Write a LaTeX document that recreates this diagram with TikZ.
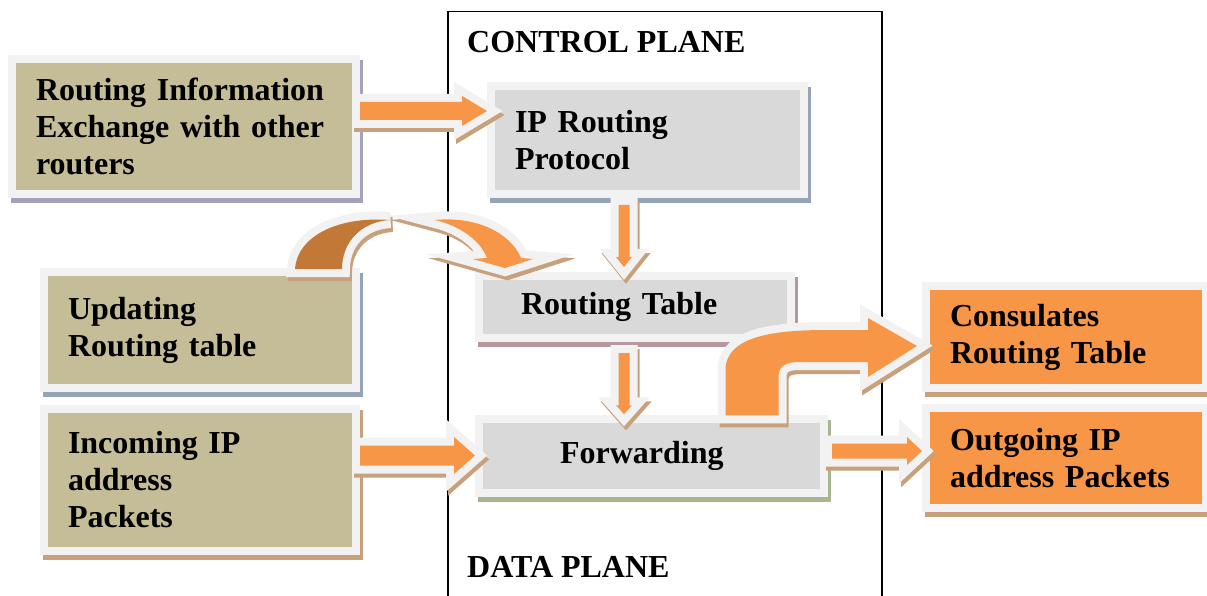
\documentclass[tikz,border=0pt]{standalone}
\usepackage{fontspec}
\setmainfont{Liberation Serif}
\usetikzlibrary{calc,shadows}

\definecolor{halo}{HTML}{F2F2F2}
\definecolor{khaki}{HTML}{C4BD97}
\definecolor{lgray}{HTML}{D9D9D9}
\definecolor{orng}{HTML}{F79646}
\definecolor{dorng}{HTML}{C27836}
\definecolor{tanshade}{HTML}{C9A07C}
\definecolor{blueshade}{HTML}{94A3B8}
\definecolor{violetshade}{HTML}{A5A1BA}
\definecolor{roseshade}{HTML}{B5979E}
\definecolor{greenshade}{HTML}{A7B591}

\tikzset{
  box/.style={draw=halo, line width=8pt, outer sep=4pt, inner ysep=0pt, align=left,
    font=\fontsize{32}{37}\selectfont\bfseries,
    drop shadow={shadow xshift=3pt, shadow yshift=-5pt, fill=#1, draw=#1, opacity=1}},
  lbl/.style={inner sep=0pt, font=\fontsize{32}{37}\selectfont\bfseries},
  blockarrow/.style={fill=#1, line join=miter, miter limit=4,
    preaction={draw=tanshade, fill=tanshade, line width=16pt, transform canvas={shift={(2pt,-4pt)}}},
    preaction={draw=halo, line width=16pt}},
  blockarrow/.default=orng
}

% from, to, shaft half width, head half width, head length
\newcommand{\blockarr}[5]{%
  \coordinate (ba-h) at ($(#2)!#5!(#1)$);
  \path[blockarrow] ($(#1)!#3!90:(#2)$) -- ($(ba-h)!#3!90:(#2)$) -- ($(ba-h)!#4!90:(#2)$)
    -- (#2) -- ($(ba-h)!#4!-90:(#2)$) -- ($(ba-h)!#3!-90:(#2)$) -- ($(#1)!#3!-90:(#2)$) -- cycle;
}

\begin{document}
\begin{tikzpicture}[x=1pt,y=-1pt]
\useasboundingbox (0,0) rectangle (1207,596);

\node[draw, line width=1.5pt, minimum width=434pt, minimum height=620pt, anchor=north west] (plane) at (447,11) {};
\node[lbl, anchor=west] (ctrl) at (467,42) {CONTROL PLANE};
\node[lbl, anchor=west] (data) at (467,567) {DATA PLANE};

\node[box=violetshade, fill=khaki, minimum height=135pt, text width=296pt, inner xsep=24pt] (info) at (184,126.5) {Routing Information\\Exchange with other\\routers};
\node[box=blueshade, fill=lgray, minimum height=108pt, text width=265pt, inner xsep=24pt] (proto) at (647.5,140) {IP Routing\\Protocol};
\node[box=roseshade, fill=lgray, minimum height=62pt, text width=228pt, inner xsep=42pt] (table) at (635,307) {Routing Table};
\node[box=greenshade, fill=lgray, minimum height=73.5pt, text width=183pt, inner xsep=81pt] (fwd) at (651.5,456) {Forwarding};
\node[box=blueshade, fill=khaki, minimum height=116pt, text width=264pt, inner xsep=24pt] (upd) at (200,330) {Updating\\Routing table};
\node[box=tanshade, fill=khaki, minimum height=142pt, text width=264pt, inner xsep=24pt] (inc) at (200,480) {Incoming IP\\address\\Packets};
\node[box=tanshade, fill=orng, minimum height=102pt, text width=232pt, inner xsep=24pt] (cons) at (1066,337) {Consulates\\Routing Table};
\node[box=tanshade, fill=orng, minimum height=100pt, text width=232pt, inner xsep=24pt] (out) at (1066,458) {Outgoing IP\\address Packets};

% straight arrows
\coordinate (a1) at ([yshift=15.5pt]info.east);
\coordinate (a2) at (a1 -| proto.west);
\blockarr{a1}{a2}{9pt}{15pt}{25pt}
\coordinate (b1) at ([xshift=-23.5pt,yshift=-7pt]proto.south);
\coordinate (b2) at ($(b1 |- table.north)+(0,-5)$);
\blockarr{b1}{b2}{5.5pt}{8pt}{10pt}
\coordinate (c1) at ([xshift=-11pt,yshift=-11pt]table.south);
\coordinate (c2) at ($(c1 |- fwd.north)+(0,-1)$);
\blockarr{c1}{c2}{5.5pt}{8pt}{9pt}
\coordinate (d1) at ([yshift=24.5pt]inc.east);
\coordinate (d2) at (d1 -| fwd.west);
\blockarr{d1}{d2}{10pt}{18.5pt}{21pt}
\coordinate (e1) at ([xshift=4pt,yshift=5pt]fwd.east);
\coordinate (e2) at (e1 -| out.west);
\blockarr{e1}{e2}{7.5pt}{14pt}{15pt}

% bent arrow up to the consulting box
\coordinate (fb) at ([xshift=100pt]fwd.north);
\coordinate (fc) at ([xshift=-5pt,yshift=-9pt]cons.west);
\path[blockarrow] ($(fb)+(-26,0)$) -- ($(fb)+(-26,-45)$)
  .. controls ($(fb)+(-26,-80)$) and ($(fc)+(-140,-16)$) .. ($(fc)+(-90,-16)$)
  -- ($(fc)+(-49,-16)$) -- ($(fc)+(-49,-28)$) -- (fc) -- ($(fc)+(-49,31)$) -- ($(fc)+(-49,16)$)
  -- ($(fc)+(-117,16)$) .. controls ($(fc)+(-131,16)$) and ($(fb)+(27,-50)$) .. ($(fb)+(27,-38)$)
  -- ($(fb)+(27,0)$) -- cycle;

% curved arrow over the frame into the table
\begin{scope}[shift={(upd.north east)}]
\path[blockarrow=dorng, line join=round] (-65,1) .. controls (-63,-30) and (-25,-52) .. (30,-48)
  .. controls (0,-46) and (-18,-25) .. (-18,1) -- cycle;
\end{scope}
\begin{scope}[shift={(table.north west)}]
\path[blockarrow, line join=round] (-40,-52) .. controls (0,-56) and (35,-40) .. (46,-14)
  -- (58,-13) -- (30,-4) -- (-2,-13) -- (12,-14) .. controls (5,-32) and (-15,-46) .. (-40,-52) -- cycle;
\end{scope}
\end{tikzpicture}
\end{document}
